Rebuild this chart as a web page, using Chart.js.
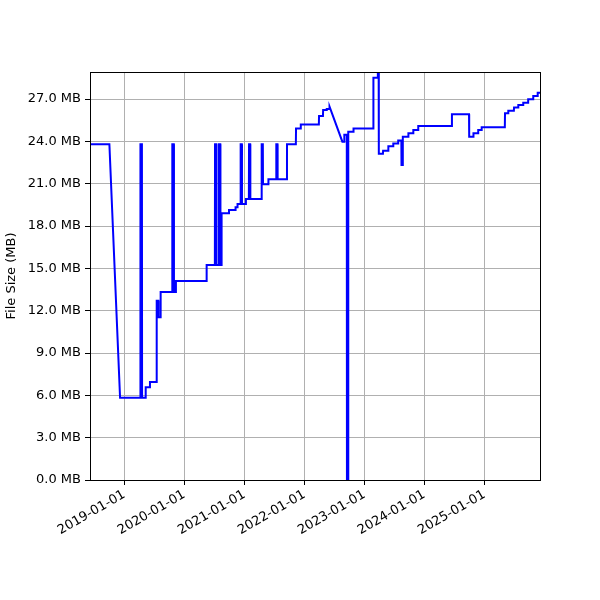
<!DOCTYPE html>
<html>
<head>
<meta charset="utf-8">
<script src="https://cdn.jsdelivr.net/npm/chart.js@4.4.1/dist/chart.umd.min.js"></script>
<style>
  body { margin: 0; background: #fff; }
  canvas { display: block; }
</style>
</head>
<body>
<canvas id="chart" width="600" height="600"></canvas>
<script>
// samples (date, size in MB); steps are two samples a day apart
var sampleDates = [
    '2018-05-20', '2018-10-02', '2018-12-06',
    '2019-04-08', '2019-04-09', '2019-04-18', '2019-04-19',
    '2019-05-10', '2019-05-11', '2019-06-05', '2019-06-06',
    '2019-07-16', '2019-07-17', '2019-07-27', '2019-07-28',
    '2019-08-09', '2019-08-10',
    '2019-10-19', '2019-10-20', '2019-10-29', '2019-10-30',
    '2019-11-10', '2019-11-11', '2020-05-15', '2020-05-16',
    '2020-07-05', '2020-07-06', '2020-07-14', '2020-07-15',
    '2020-07-29', '2020-07-30', '2020-08-07', '2020-08-08',
    '2020-08-14', '2020-08-15', '2020-09-28', '2020-09-29',
    '2020-11-07', '2020-11-08', '2020-11-19', '2020-11-20',
    '2020-12-08', '2020-12-09', '2020-12-16', '2020-12-17',
    '2021-01-09', '2021-01-10',
    '2021-01-28', '2021-01-29', '2021-02-05', '2021-02-06',
    '2021-04-15', '2021-04-16', '2021-04-23', '2021-04-24',
    '2021-05-26', '2021-05-27',
    '2021-07-13', '2021-07-14', '2021-07-21', '2021-07-22',
    '2021-09-16', '2021-09-17', '2021-11-10', '2021-11-11',
    '2021-12-09', '2021-12-10', '2022-03-30', '2022-03-31',
    '2022-04-24', '2022-04-25', '2022-05-16', '2022-05-17',
    '2022-06-02', '2022-06-03', '2022-08-20', '2022-08-31', '2022-09-01',
    '2022-09-16', '2022-09-17', '2022-09-24', '2022-09-25',
    '2022-10-26', '2022-10-27', '2023-02-24', '2023-02-25',
    '2023-03-23', '2023-03-24', '2023-03-29', '2023-03-30',
    '2023-04-24', '2023-04-25', '2023-05-26', '2023-05-27',
    '2023-06-25', '2023-06-26', '2023-07-25', '2023-07-26',
    '2023-08-14', '2023-08-15', '2023-08-22', '2023-08-23',
    '2023-09-25', '2023-09-26', '2023-10-25', '2023-10-26',
    '2023-11-24', '2023-11-25', '2024-06-16', '2024-06-17',
    '2024-09-29', '2024-09-30', '2024-10-25', '2024-10-26',
    '2024-11-23', '2024-11-24', '2024-12-14', '2024-12-15',
    '2025-05-05', '2025-05-06', '2025-05-25', '2025-05-26',
    '2025-06-29', '2025-06-30', '2025-07-25', '2025-07-26',
    '2025-08-24', '2025-08-25', '2025-09-23', '2025-09-24',
    '2025-10-24', '2025-10-25', '2025-11-20', '2025-11-21', '2025-12-15'
];
var sampleSizes = [
    23.8, 23.8, 5.83,
    5.83, 23.8, 23.8, 5.83,
    5.83, 6.57, 6.57, 6.95,
    6.95, 12.7, 12.7, 11.53,
    11.53, 13.32,
    13.32, 23.8, 23.8, 13.32,
    13.32, 14.10, 14.10, 15.24,
    15.24, 23.8, 23.8, 15.24,
    15.24, 23.8, 23.8, 15.24,
    15.24, 18.90, 18.90, 19.13,
    19.13, 19.33, 19.33, 19.56,
    19.56, 23.8, 23.8, 19.56,
    19.56, 19.91,
    19.91, 23.8, 23.8, 19.91,
    19.91, 23.8, 23.8, 20.96,
    20.96, 21.31,
    21.31, 23.8, 23.8, 21.31,
    21.31, 23.79, 23.79, 24.92,
    24.92, 25.19, 25.19, 25.80,
    25.80, 26.22, 26.22, 26.29,
    26.29, 26.46, 23.98, 23.98, 24.47,
    24.47, 0.0, 0.0, 24.68,
    24.68, 24.92, 24.92, 28.52,
    28.52, 28.92, 28.92, 23.12,
    23.12, 23.34, 23.34, 23.65,
    23.65, 23.86, 23.86, 24.07,
    24.07, 22.32, 22.32, 24.33,
    24.33, 24.57, 24.57, 24.80,
    24.80, 25.10, 25.10, 25.93,
    25.93, 24.33, 24.33, 24.57,
    24.57, 24.80, 24.80, 25.00,
    25.00, 25.99, 25.99, 26.17,
    26.17, 26.41, 26.41, 26.58,
    26.58, 26.74, 26.74, 26.98,
    26.98, 27.21, 27.21, 27.45, 27.45
];
var tickYears = [2019, 2020, 2021, 2022, 2023, 2024, 2025];
var yTicks = [0, 3, 6, 9, 12, 15, 18, 21, 24, 27];
var xMin = '2018-06-06';
var xMax = '2025-12-05';
var yMax = 28.92;

var points = [];
sampleDates.forEach(function(d, i){
    points.push({x: Date.parse(d), y: sampleSizes[i]});
});

function pad2(n){ return (n < 10 ? '0' : '') + n; }

Chart.defaults.font.family = 'DejaVu Sans';
Chart.defaults.font.size = 13;
Chart.defaults.color = '#000';

var frame = {
    id: 'frame',
    afterDatasetsDraw: function(chart){
        var a = chart.chartArea, ctx = chart.ctx;
        ctx.save();
        ctx.strokeStyle = '#000';
        ctx.lineWidth = 1;
        ctx.strokeRect(Math.round(a.left) + 0.5, Math.round(a.top) + 0.5,
                       Math.round(a.right - a.left), Math.round(a.bottom - a.top));
        ctx.restore();
    }
};

var ctx = document.getElementById('chart');
var myChart = new Chart(ctx, {
    type: 'line',
    data: {
        datasets: [{
            data: points,
            borderColor: '#0000ff',
            borderWidth: 2,
            pointRadius: 0,
            tension: 0,
            fill: false
        }]
    },
    options: {
        responsive: false,
        animation: false,
        layout: { padding: { left: 0, top: 72, right: 60, bottom: 0 } },
        plugins: { legend: { display: false }, tooltip: { enabled: false } },
        scales: {
            x: {
                type: 'linear',
                min: Date.parse(xMin),
                max: Date.parse(xMax),
                afterBuildTicks: function(scale){
                    scale.ticks = tickYears.map(function(y){ return {value: Date.UTC(y, 0, 1)}; });
                },
                afterFit: function(scale){ scale.height = 120; },
                ticks: {
                    minRotation: 30,
                    maxRotation: 30,
                    padding: 2,
                    callback: function(v){
                        var d = new Date(v);
                        return d.getUTCFullYear() + '-' + pad2(d.getUTCMonth() + 1) + '-' + pad2(d.getUTCDate());
                    }
                },
                grid: { color: '#b0b0b0', lineWidth: 1, tickColor: '#000', tickLength: 5, tickWidth: 1 },
                border: { color: '#000', width: 1 }
            },
            y: {
                min: 0,
                max: yMax,
                afterBuildTicks: function(scale){
                    scale.ticks = yTicks.map(function(v){ return {value: v}; });
                },
                afterFit: function(scale){ scale.width = 90; },
                ticks: {
                    padding: 4,
                    callback: function(v){ return v.toFixed(1) + ' MB'; }
                },
                title: { display: true, text: 'File Size (MB)', padding: { top: 4, bottom: 4 } },
                grid: { color: '#b0b0b0', lineWidth: 1, tickColor: '#000', tickLength: 5, tickWidth: 1 },
                border: { color: '#000', width: 1 }
            }
        }
    },
    plugins: [frame]
});
</script>
</body>
</html>
